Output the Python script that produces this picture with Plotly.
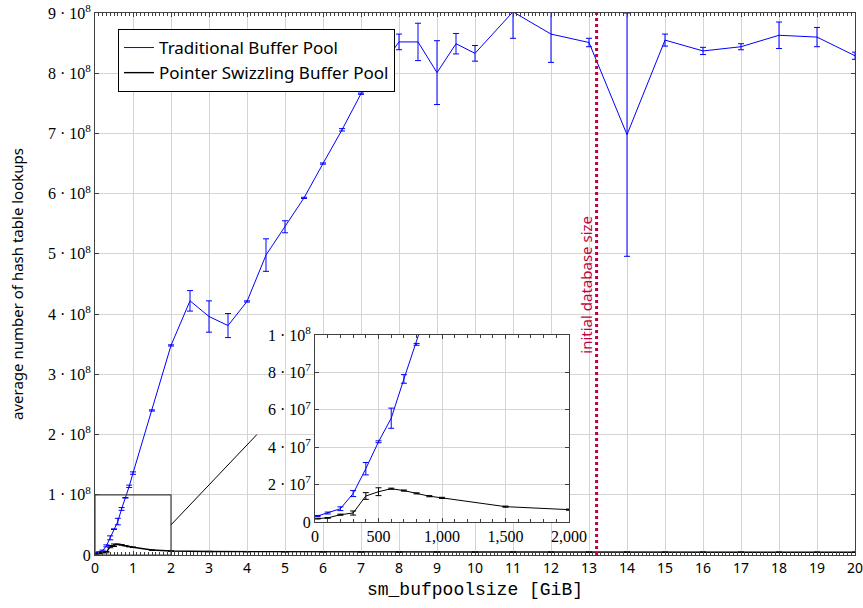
import plotly.graph_objects as go

# ---------------- data ----------------
# buffer pool size in GiB
trad_x = [0.02, 0.1, 0.2, 0.3, 0.4, 0.5, 0.6, 0.7, 0.8, 0.9, 1.0, 1.5, 2.0, 2.5, 3.0, 3.5,
          4.0, 4.5, 5.0, 5.5, 6.0, 6.5, 7.0, 7.5, 8.0, 8.5, 9.0, 9.5, 10.0, 11.0, 12.0,
          13.0, 14.0, 15.0, 16.0, 17.0, 18.0, 19.0, 20.0]
trad_y = [3.2e6, 4.8e6, 7.1e6, 15.2e6, 28.5e6, 42.9e6, 55.5e6, 76.5e6, 95e6, 1.14e8,
          1.36e8, 2.40e8, 3.48e8, 4.22e8, 3.96e8, 3.81e8, 4.21e8, 4.98e8, 5.45e8, 5.93e8,
          6.50e8, 7.06e8, 7.66e8, 8.10e8, 8.52e8, 8.52e8, 8.01e8, 8.49e8, 8.33e8, 9.02e8,
          8.65e8, 8.51e8, 6.98e8, 8.55e8, 8.37e8, 8.44e8, 8.63e8, 8.60e8, 8.29e8]
trad_err = [0.3e6, 0.5e6, 1.0e6, 1.6e6, 3.3e6, 0.5e6, 5.4e6, 2.3e6, 0.5e6, 2e6,
            2e6, 1e6, 1e6, 0.17e8, 0.26e8, 0.20e8, 0.01e8, 0.27e8, 0.10e8, 0.01e8,
            0.01e8, 0.02e8, 0.01e8, 0.03e8, 0.13e8, 0.31e8, 0.53e8, 0.17e8, 0.13e8, 0.44e8,
            0.47e8, 0.07e8, 2.02e8, 0.10e8, 0.06e8, 0.05e8, 0.22e8, 0.16e8, 0.06e8]

swiz_x = [0.02, 0.1, 0.2, 0.3, 0.4, 0.5, 0.6, 0.7, 0.8, 0.9, 1.0, 1.5, 2.0, 3.0, 4.0,
          5.0, 6.0, 7.0, 8.0, 9.0, 10.0, 11.0, 12.0, 13.0, 14.0, 15.0, 16.0, 17.0, 18.0,
          19.0, 20.0]
swiz_y = [1.8e6, 2.2e6, 3.9e6, 4.8e6, 13.9e6, 16.2e6, 17.8e6, 16.8e6, 15.3e6, 13.8e6,
          12.9e6, 8.2e6, 6.6e6, 5.8e6, 5.5e6, 5.3e6, 5.2e6, 5.1e6, 5.0e6, 5.0e6, 4.9e6,
          4.9e6, 4.8e6, 4.8e6, 4.8e6, 4.7e6, 4.7e6, 4.7e6, 4.6e6, 4.6e6, 4.6e6]
swiz_err = [0.2e6, 0.2e6, 0.3e6, 1.1e6, 1.8e6, 2.1e6, 0.3e6, 0.3e6, 0.3e6, 0.3e6,
            0.3e6, 0.3e6, 0.3e6, 0.3e6, 0.3e6, 0.3e6, 0.3e6, 0.3e6, 0.3e6, 0.3e6, 0.3e6,
            0.3e6, 0.3e6, 0.3e6, 0.3e6, 0.3e6, 0.3e6, 0.3e6, 0.3e6, 0.3e6, 0.3e6]

db_size = 13.2  # GiB, initial database size

main_x_max_label = "20"
main_y_vals = [0, 1e8, 2e8, 3e8, 4e8, 5e8, 6e8, 7e8, 8e8, 9e8]
main_y_text = ["0"] + [f"{i} · 10<sup>8</sup>" for i in range(1, 10)]
inset_y_vals = [0, 2e7, 4e7, 6e7, 8e7, 1e8]
inset_y_text = ["0", "2 · 10<sup>7</sup>", "4 · 10<sup>7</sup>", "6 · 10<sup>7</sup>",
                "8 · 10<sup>7</sup>", "1 · 10<sup>8</sup>"]
inset_x_vals = [0, 500, 1000, 1500, 2000]
inset_x_text = ["0", "500", "1,000", "1,500", "2,000"]

BLUE = "#0000FF"
BLACK = "#000000"
GRID = "#d4d4d4"
FRAME = "#404040"
SERIF = "Liberation Serif"
SANS = "Noto Sans"

fig = go.Figure()

# main traces
fig.add_trace(go.Scatter(
    x=trad_x, y=trad_y, mode="lines", name="Traditional Buffer Pool",
    line=dict(color=BLUE, width=1),
    error_y=dict(type="data", array=trad_err, color=BLUE, thickness=1, width=3),
    xaxis="x", yaxis="y"))
fig.add_trace(go.Scatter(
    x=swiz_x, y=swiz_y, mode="lines", name="Pointer Swizzling Buffer Pool",
    line=dict(color=BLACK, width=1.4),
    error_y=dict(type="data", array=swiz_err, color=BLACK, thickness=1, width=3),
    xaxis="x", yaxis="y"))

# inset traces (MiB)
fig.add_trace(go.Scatter(
    x=[v * 1000 for v in trad_x], y=trad_y, mode="lines", showlegend=False,
    line=dict(color=BLUE, width=1),
    error_y=dict(type="data", array=trad_err, color=BLUE, thickness=1, width=3),
    xaxis="x2", yaxis="y2"))
fig.add_trace(go.Scatter(
    x=[v * 1000 for v in swiz_x], y=swiz_y, mode="lines", showlegend=False,
    line=dict(color=BLACK, width=1),
    error_y=dict(type="data", array=swiz_err, color=BLACK, thickness=1, width=3),
    xaxis="x2", yaxis="y2"))

axis_common = dict(showline=True, linecolor=FRAME, linewidth=1, mirror="ticks",
                   gridcolor=GRID, gridwidth=1, zeroline=False, ticks="inside",
                   tickcolor=FRAME, ticklen=4, automargin=False)

fig.update_layout(
    width=863, height=608,
    margin=dict(l=95, r=8, t=13, b=53),
    paper_bgcolor="white", plot_bgcolor="white",
    xaxis=dict(range=[0, 20], tickmode="linear", tick0=0, dtick=1,
               tickfont=dict(family=SANS, size=14, color="black"),
               minor=dict(ticks="inside", dtick=0.1, ticklen=3, tickcolor=FRAME,
                          showgrid=False),
               title=dict(text="sm_bufpoolsize [GiB]",
                          font=dict(family="Liberation Mono", size=18, color="black"),
                          standoff=6),
               **axis_common),
    yaxis=dict(range=[0, 9e8], tickmode="array", tickvals=main_y_vals, ticktext=main_y_text,
               tickfont=dict(family=SERIF, size=16, color="black"),
               title=dict(text="average number of hash table lookups",
                          font=dict(family=SANS, size=15, color="black"), standoff=20),
               **axis_common),
    xaxis2=dict(domain=[0.2895, 0.6237], anchor="y2", range=[0, 2000],
                tickmode="array", tickvals=inset_x_vals, ticktext=inset_x_text,
                tickfont=dict(family=SERIF, size=16, color="black"),
                minor=dict(ticks="inside", dtick=100, ticklen=3, tickcolor=FRAME,
                           showgrid=False),
                **axis_common),
    yaxis2=dict(domain=[0.0609, 0.4059], anchor="x2", range=[0, 1e8],
                tickmode="array", tickvals=inset_y_vals, ticktext=inset_y_text,
                tickfont=dict(family=SERIF, size=16, color="black"),
                **axis_common),
    legend=dict(x=0.0303, y=0.9705, xanchor="left", yanchor="top",
                bgcolor="white", bordercolor="black", borderwidth=1,
                font=dict(family=SANS, size=17, color="black"),
                itemwidth=30, tracegroupgap=0),
    showlegend=True,
)

# last x tick label (partly cut at the page edge, as in the original)
fig.add_annotation(x=20, xref="x", y=0, yref="paper", yanchor="top", yshift=-1,
                   text=main_x_max_label, showarrow=False,
                   font=dict(family=SANS, size=14, color="black"))

# white background behind inset (covers main plot)
fig.add_shape(type="rect", xref="x2", yref="y2", x0=0, x1=2000, y0=0, y1=1e8,
              fillcolor="white", line=dict(width=0), layer="below")

# zoom rectangle and connector
fig.add_shape(type="rect", xref="x", yref="y", x0=0, x1=2, y0=0, y1=1e8,
              line=dict(color=FRAME, width=1.2), layer="above")
fig.add_shape(type="line", xref="x", yref="y", x0=2, x1=4.26, y0=0.5e8, y1=2.0e8,
              line=dict(color=BLACK, width=1), layer="above")

# initial database size marker
fig.add_shape(type="line", xref="x", yref="y", x0=db_size, x1=db_size, y0=0, y1=9e8,
              line=dict(color="#BF0040", width=3, dash="dot"), layer="above")
fig.add_annotation(x=db_size, xref="x", y=0.498, yref="paper", text="initial database size",
                   textangle=-90, showarrow=False, xshift=-11,
                   font=dict(family=SANS, size=15, color="#BF0040"))

fig.write_html("out.html")
